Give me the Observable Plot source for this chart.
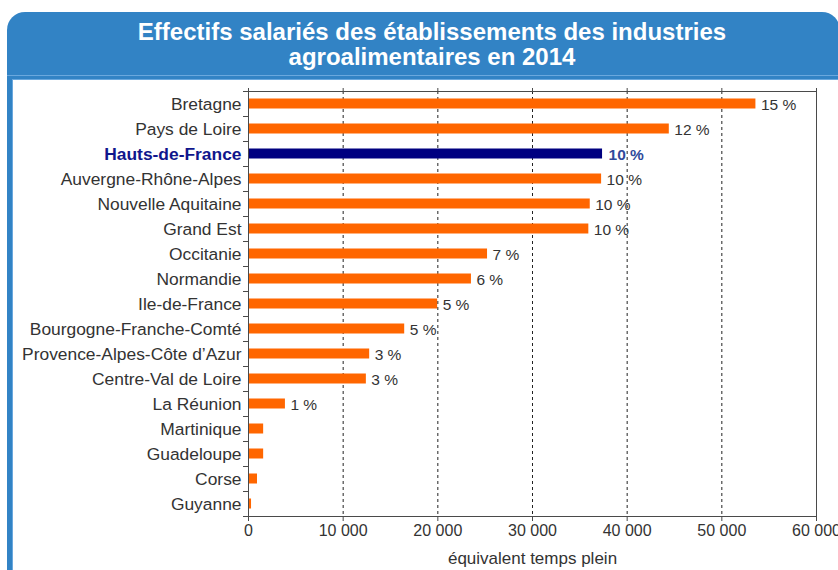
<!DOCTYPE html>
<html>
<head>
<meta charset="utf-8">
<script src="https://cdn.jsdelivr.net/npm/d3@7"></script>
<script src="https://cdn.jsdelivr.net/npm/@observablehq/plot@0.6"></script>
<style>
  html, body { margin: 0; padding: 0; background: #ffffff; }
  #page { position: relative; width: 838px; height: 570px; overflow: hidden; background: #ffffff;
          font-family: "Liberation Sans", Arial, sans-serif; }
  #panel { position: absolute; left: 7px; top: 12px; width: 833px; height: 600px;
           background: #3283c5; border-radius: 18px 18px 0 0; }
  #sep { position: absolute; left: 7px; top: 75px; width: 840px; height: 1px; background: #6aa8de; }
  #inner { position: absolute; left: 12px; top: 79px; width: 840px; height: 600px;
           background: #ffffff; border-left: 1px solid #6aa8de; border-top: 1px solid #6aa8de; }
  #title { position: absolute; left: 7px; top: 19px; width: 850px; text-align: center;
           color: #ffffff; font-weight: bold; font-size: 24px; line-height: 25px; }
  #chart { position: absolute; left: 13px; top: 80px; }
</style>
</head>
<body>
<div id="page">
  <div id="panel"></div>
  <div id="sep"></div>
  <div id="inner"></div>
  <div id="title">Effectifs salariés des établissements des industries<br>agroalimentaires en 2014</div>
  <div id="chart"></div>
</div>
<script>
const regions = ["Bretagne", "Pays de Loire", "Hauts-de-France", "Auvergne-Rhône-Alpes", "Nouvelle Aquitaine",
  "Grand Est", "Occitanie", "Normandie", "Ile-de-France", "Bourgogne-Franche-Comté",
  "Provence-Alpes-Côte d’Azur", "Centre-Val de Loire", "La Réunion", "Martinique", "Guadeloupe", "Corse", "Guyanne"];
const effectifs = [53600, 44450, 37400, 37300, 36100, 35950, 25250, 23550, 19980, 16500,
  12800, 12450, 3900, 1600, 1600, 950, 320];
const shares = ["15 %", "12 %", "10 %", "10 %", "10 %", "10 %", "7 %", "6 %", "5 %", "5 %",
  "3 %", "3 %", "1 %", null, null, null, null];
const highlight = "Hauts-de-France";
const xTicks = [0, 10000, 20000, 30000, 40000, 50000, 60000];
const gridTicks = [10000, 20000, 30000, 40000, 50000];
const xLabel = "équivalent temps plein";

const data = regions.map((r, i) => ({region: r, value: effectifs[i], share: shares[i]}));
const fmt = d => d3.format(",")(d).replace(/,/g, " ");

const chart = Plot.plot({
  width: 825,
  height: 490,
  marginLeft: 235,
  marginRight: 22,
  marginTop: 11,
  marginBottom: 54,
  style: {background: "transparent", fontFamily: "'Liberation Sans', Arial, sans-serif", fontSize: "16px", color: "#333", overflow: "visible"},
  x: {domain: [0, 60000]},
  y: {domain: regions, padding: 0},
  marks: [
    Plot.ruleX(gridTicks, {stroke: "#222", strokeDasharray: "3,3", strokeWidth: 1}),
    Plot.barX(data, {filter: d => d.region !== highlight, x: "value", y: "region", fill: "#ff6600", insetTop: 7.5, insetBottom: 7.5}),
    Plot.barX(data, {filter: d => d.region === highlight, x: "value", y: "region", fill: "#000080", insetTop: 7.5, insetBottom: 7.5}),
    Plot.text(data, {filter: d => d.share && d.region !== highlight, x: "value", y: "region", text: "share", dx: 5, dy: 1, textAnchor: "start", fill: "#333", fontSize: 15.5}),
    Plot.text(data, {filter: d => d.region === highlight, x: "value", y: "region", text: "share", dx: 6, dy: 1, textAnchor: "start", fill: "#2f4a9b", fontSize: 15.5, fontWeight: "bold"}),
    Plot.frame({stroke: "#4a4a4a"}),
    Plot.axisY(regions.filter(r => r !== highlight), {tickSize: 0, tickPadding: 7, fontSize: 17.4, fill: "#333", label: null}),
    Plot.axisY([highlight], {tickSize: 0, tickPadding: 7, fontSize: 17.4, fill: "#10168c", fontWeight: "bold", label: null}),
    Plot.axisY(regions, {tickSize: 5, tickFormat: () => "", dy: -12.5, stroke: "#4a4a4a", label: null}),
    Plot.axisY([regions[regions.length - 1]], {tickSize: 5, tickFormat: () => "", dy: 12.5, stroke: "#4a4a4a", label: null}),
    Plot.axisX({anchor: "top", ticks: xTicks, tickSize: 4, tickFormat: () => "", stroke: "#4a4a4a", label: null}),
    Plot.axisX({anchor: "bottom", ticks: xTicks, tickSize: 5, tickPadding: 3, tickFormat: fmt, fontSize: 16, fill: "#333", stroke: "#4a4a4a", label: null}),
    Plot.text([xLabel], {frameAnchor: "bottom", dy: 47, fontSize: 17, fill: "#333"})
  ]
});
document.getElementById("chart").appendChild(chart);
</script>
</body>
</html>
